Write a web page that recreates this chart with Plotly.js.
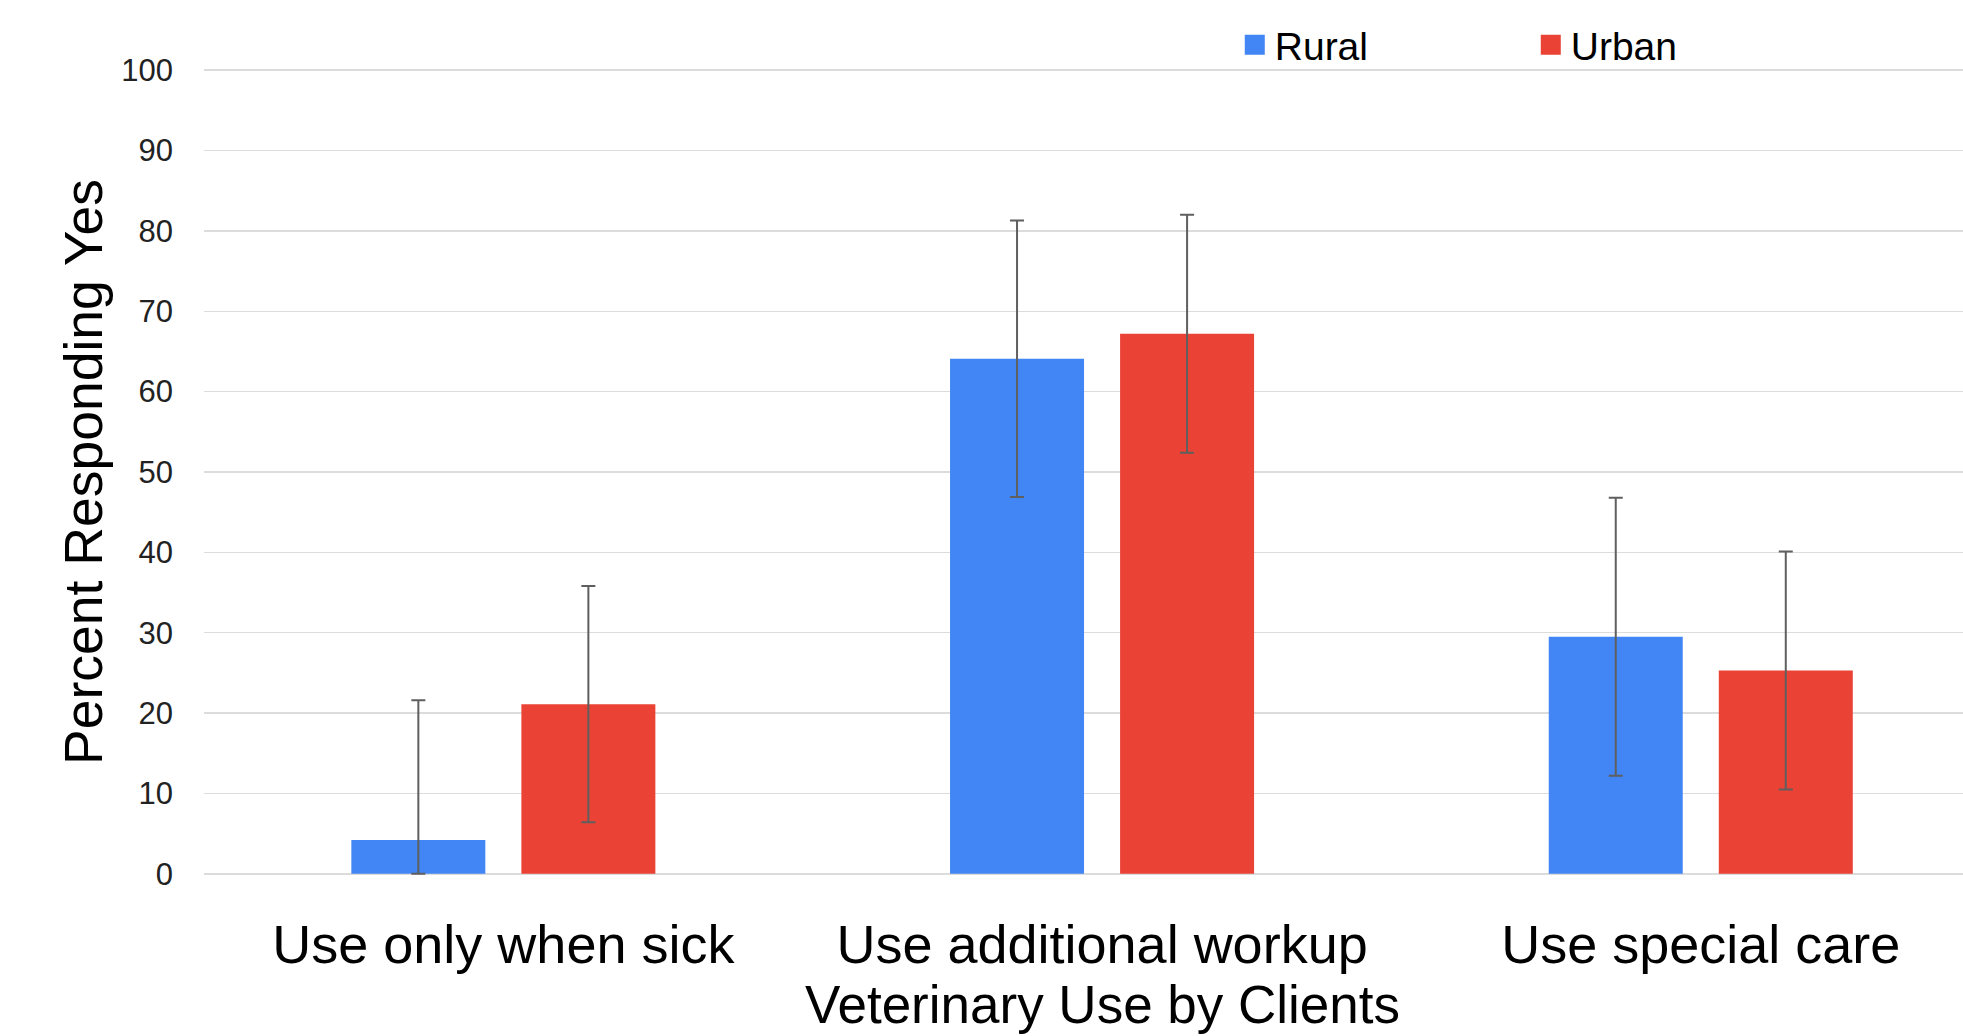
<!DOCTYPE html>
<html>
<head>
<meta charset="utf-8">
<script src="https://cdn.plot.ly/plotly-3.0.1.min.js"></script>
<style>
  html, body { margin: 0; padding: 0; background: #fff; }
  #chart { width: 1963px; height: 1036px; }
</style>
</head>
<body>
<div id="chart"></div>
<script>
const categories = ["Use only when sick", "Use additional workup", "Use special care"];
const seriesNames = ["Rural", "Urban"];
const ruralValues = [4.2, 64.1, 29.5];
const ruralErrPlus = [17.4, 17.2, 17.3];
const ruralErrMinus = [4.2, 17.2, 17.3];
const urbanValues = [21.1, 67.2, 25.3];
const urbanErrPlus = [14.7, 14.8, 14.8];
const urbanErrMinus = [14.7, 14.8, 14.8];
const yTickValues = [0, 10, 20, 30, 40, 50, 60, 70, 80, 90, 100];
const xTitle = "Veterinary Use by Clients";
const yTitle = "Percent Responding Yes";

const FONT = "Liberation Sans, Arial, Helvetica, sans-serif";
const errStyle = { type: "data", symmetric: false, color: "#5f5f5f", thickness: 2, width: 7 };

const traces = [
  {
    type: "bar", name: seriesNames[0], x: categories, y: ruralValues,
    marker: { color: "#4285F4" },
    error_y: Object.assign({ array: ruralErrPlus, arrayminus: ruralErrMinus }, errStyle),
    hoverinfo: "none"
  },
  {
    type: "bar", name: seriesNames[1], x: categories, y: urbanValues,
    marker: { color: "#EA4335" },
    error_y: Object.assign({ array: urbanErrPlus, arrayminus: urbanErrMinus }, errStyle),
    hoverinfo: "none"
  }
];

const layout = {
  width: 1963, height: 1036,
  paper_bgcolor: "#ffffff", plot_bgcolor: "#ffffff",
  margin: { l: 204, r: 0, t: 69, b: 161, pad: 0 },
  barmode: "group",
  bargap: 0.432,
  bargroupgap: 0.212,
  font: { family: FONT, color: "#000" },
  showlegend: true,
  legend: {
    orientation: "h",
    x: 0.586, xanchor: "left",
    y: 1.03, yanchor: "middle",
    font: { family: FONT, size: 39, color: "#000" },
    entrywidth: 251, entrywidthmode: "pixels",
    bgcolor: "rgba(0,0,0,0)"
  },
  xaxis: {
    type: "category",
    range: [-0.5, 2.438],
    showgrid: false, zeroline: false, showline: false,
    ticks: "", ticklabelstandoff: 33,
    tickfont: { family: FONT, size: 54, color: "#000" },
    fixedrange: true
  },
  yaxis: {
    range: [-0.15, 100.15],
    tickmode: "array", tickvals: yTickValues, ticktext: yTickValues.map(String),
    showgrid: true, gridcolor: "#dcdcdc", gridwidth: 1.5,
    zeroline: false, showline: false,
    ticks: "", ticklabelstandoff: 30,
    tickfont: { family: FONT, size: 31, color: "#222" },
    title: { text: yTitle, font: { family: FONT, size: 53.5, color: "#000" }, standoff: 1 },
    fixedrange: true
  },
  annotations: [
    {
      text: xTitle, xref: "x", x: 1, yref: "paper", y: -0.161,
      xanchor: "center", yanchor: "middle", showarrow: false,
      borderpad: 0,
      font: { family: FONT, size: 53, color: "#000" }
    }
  ]
};

Plotly.newPlot("chart", traces, layout, { displayModeBar: false, staticPlot: true }).then(function (gd) {
  gd.querySelectorAll(".legend .legendpoints path").forEach(function (p) {
    p.setAttribute("d", "M10,10H-10V-10H10Z");
  });
});
</script>
</body>
</html>
